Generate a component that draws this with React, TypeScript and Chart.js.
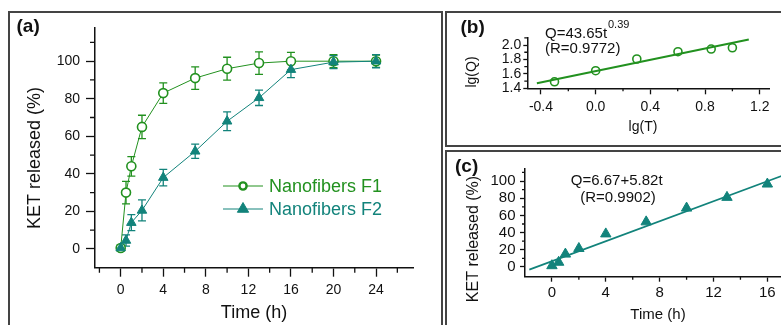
import React, { useEffect, useRef } from 'react';
import { Chart, registerables } from 'chart.js';
Chart.register(...registerables);

// ---------------- data ----------------
const times = [0, 0.5, 1, 2, 4, 7, 10, 13, 16, 20, 24];
const f1Released = [0.5, 30, 44, 65, 83, 91, 96, 99, 100, 100, 100];
const f1Error = [1.5, 6, 5.2, 6.2, 5.5, 6, 6.1, 6, 4.7, 3.5, 3.3];
const f2Released = [0.5, 4.5, 14, 20.5, 38, 52, 68, 80.5, 95.5, 99.5, 100];
const f2Error = [1.5, 3, 4.3, 5.6, 4.4, 3.8, 5, 4.1, 4.2, 3.5, 3.5];

const aXTicks = [0, 4, 8, 12, 16, 20, 24];
const aXMinor = [-2, 2, 6, 10, 14, 18, 22, 26];
const aYTicks = [0, 20, 40, 60, 80, 100];
const aYMinor = [10, 30, 50, 70, 90, 110];

const lgT = [-0.301, 0, 0.301, 0.602, 0.845, 1.0];
const lgQ = [1.49, 1.644, 1.806, 1.907, 1.944, 1.962];
const fitBX = [-0.43, 1.12];
const fitBY = [1.47, 2.077];
const bXTicks = [-0.4, 0, 0.4, 0.8, 1.2];
const bXMinor = [-0.2, 0.2, 0.6, 1.0];
const bYTicks = [1.4, 1.6, 1.8, 2.0];
const bYMinor = [1.5, 1.7, 1.9, 2.1];

const cTimes = [0, 0.5, 1, 2, 4, 7, 10, 13, 16];
const cReleased = [1.5, 5.5, 15, 21.5, 38.5, 52.5, 68.5, 81, 96.5];
const fitCX = [-1.68, 18];
const fitCY = [-3.1, 111.4];
const cXTicks = [0, 4, 8, 12, 16];
const cXMinor = [2, 6, 10, 14, 18];
const cYTicks = [0, 20, 40, 60, 80, 100];
const cYMinor = [10, 30, 50, 70, 90, 110];

// ---------------- styles ----------------
const FONT = "'Liberation Sans', Arial, sans-serif";
const GREEN = '#22911f';
const TEAL = '#12837b';
const INK = '#111';

function axis(o: any) {
  return {
    type: 'linear',
    min: o.min,
    max: o.max,
    afterBuildTicks: (s: any) => {
      s.ticks = o.ticks.map((v: number) => ({ value: v }));
    },
    afterFit: (s: any) => {
      if (o.horizontal) s.height = o.size;
      else s.width = o.size;
    },
    ticks: {
      font: { family: FONT, size: o.font },
      color: INK,
      padding: o.pad,
      autoSkip: false,
      maxRotation: 0,
      minRotation: 0,
      callback: (v: number) => o.fmt(v),
    },
    grid: {
      display: true,
      drawOnChartArea: false,
      drawTicks: true,
      tickLength: o.tickLen,
      tickWidth: 1.3,
      tickColor: INK,
    },
    border: { display: true, color: INK, width: 1.5 },
  };
}

const errorBarPlugin = {
  id: 'errorBars',
  beforeDatasetsDraw(chart: any) {
    const { ctx } = chart;
    const xs = chart.scales.x;
    const ys = chart.scales.y;
    chart.data.datasets.forEach((ds: any) => {
      if (!ds.errors) return;
      ctx.save();
      ctx.strokeStyle = ds.borderColor;
      ctx.lineWidth = 1.3;
      ds.data.forEach((p: any, i: number) => {
        const e = ds.errors[i];
        const px = xs.getPixelForValue(p.x);
        const top = ys.getPixelForValue(p.y + e);
        const bot = ys.getPixelForValue(p.y - e);
        ctx.beginPath();
        ctx.moveTo(px, top);
        ctx.lineTo(px, bot);
        ctx.moveTo(px - 4, top);
        ctx.lineTo(px + 4, top);
        ctx.moveTo(px - 4, bot);
        ctx.lineTo(px + 4, bot);
        ctx.stroke();
      });
      ctx.restore();
    });
  },
};

function minorTicks(xv: number[], yv: number[], len: number) {
  return {
    id: 'minorTicks',
    afterDraw(chart: any) {
      const { ctx, chartArea } = chart;
      const xs = chart.scales.x;
      const ys = chart.scales.y;
      ctx.save();
      ctx.strokeStyle = INK;
      ctx.lineWidth = 1.3;
      ctx.beginPath();
      xv.forEach((v) => {
        const px = xs.getPixelForValue(v);
        ctx.moveTo(px, chartArea.bottom);
        ctx.lineTo(px, chartArea.bottom + len);
      });
      yv.forEach((v) => {
        const py = ys.getPixelForValue(v);
        ctx.moveTo(chartArea.left, py);
        ctx.lineTo(chartArea.left - len, py);
      });
      ctx.stroke();
      ctx.restore();
    },
  };
}

type TextItem = { t: string; x: number; y: number; size: number; bold?: boolean; color?: string; align?: CanvasTextAlign; rot?: boolean };

function textPlugin(ox: number, oy: number, items: TextItem[]) {
  return {
    id: 'texts',
    afterDraw(chart: any) {
      const ctx = chart.ctx;
      items.forEach((it) => {
        ctx.save();
        ctx.font = `${it.bold ? 'bold ' : ''}${it.size}px ${FONT}`;
        ctx.fillStyle = it.color || INK;
        ctx.textAlign = it.align || 'center';
        ctx.textBaseline = 'middle';
        ctx.translate(it.x - ox, it.y - oy);
        if (it.rot) ctx.rotate(-Math.PI / 2);
        ctx.fillText(it.t, 0, 0);
        ctx.restore();
      });
    },
  };
}

function drawMarker(ctx: any, style: string, x: number, y: number, r: number, color: string, lw: number, fill: string) {
  ctx.save();
  ctx.beginPath();
  if (style === 'circle') {
    ctx.arc(x, y, r, 0, Math.PI * 2);
  } else {
    let rad = 0;
    const step = (Math.PI * 2) / 3;
    ctx.moveTo(x + Math.sin(rad) * r, y - Math.cos(rad) * r);
    rad += step;
    ctx.lineTo(x + Math.sin(rad) * r, y - Math.cos(rad) * r);
    rad += step;
    ctx.lineTo(x + Math.sin(rad) * r, y - Math.cos(rad) * r);
  }
  ctx.closePath();
  ctx.fillStyle = fill;
  ctx.fill();
  ctx.strokeStyle = color;
  ctx.lineWidth = lw;
  ctx.stroke();
  ctx.restore();
}

function legendPlugin(ox: number, oy: number) {
  return {
    id: 'legendA',
    afterDraw(chart: any) {
      const ctx = chart.ctx;
      const rows = [
        { ds: chart.data.datasets[0], y: 186, style: 'circle', r: 3.6, lw: 2.4, fill: '#fff' },
        { ds: chart.data.datasets[1], y: 209, style: 'triangle', r: 6.5, lw: 1, fill: TEAL },
      ];
      rows.forEach((row) => {
        const color = row.ds.borderColor;
        const y = row.y - oy;
        ctx.save();
        ctx.strokeStyle = color;
        ctx.lineWidth = 1;
        ctx.beginPath();
        ctx.moveTo(223 - ox, y);
        ctx.lineTo(263 - ox, y);
        ctx.stroke();
        ctx.restore();
        drawMarker(ctx, row.style, 243 - ox, y, row.r, color, row.lw, row.fill);
        ctx.save();
        ctx.font = `18px ${FONT}`;
        ctx.fillStyle = color;
        ctx.textAlign = 'left';
        ctx.textBaseline = 'middle';
        ctx.fillText(row.ds.label, 269 - ox, y + 1);
        ctx.restore();
      });
    },
  };
}

const baseOptions = {
  responsive: false,
  animation: false,
  devicePixelRatio: 1,
  events: [],
};

function configA() {
  const ox = 10;
  const oy = 13;
  return {
    type: 'scatter',
    data: {
      datasets: [
        {
          label: 'Nanofibers F1',
          data: times.map((t, i) => ({ x: t, y: f1Released[i] })),
          errors: f1Error,
          showLine: true,
          borderColor: GREEN,
          borderWidth: 1,
          pointStyle: 'circle',
          pointRadius: 4.5,
          pointBorderWidth: 1.6,
          pointBorderColor: GREEN,
          pointBackgroundColor: '#fff',
          order: 1,
          clip: false,
        },
        {
          label: 'Nanofibers F2',
          data: times.map((t, i) => ({ x: t, y: f2Released[i] })),
          errors: f2Error,
          showLine: true,
          borderColor: TEAL,
          borderWidth: 1,
          pointStyle: 'triangle',
          pointRadius: 5.5,
          pointBorderWidth: 1,
          pointBorderColor: TEAL,
          pointBackgroundColor: TEAL,
          order: 0,
          clip: false,
        },
      ],
    },
    options: {
      ...baseOptions,
      layout: { padding: { left: 0, top: 11, right: 27.7, bottom: 0 } },
      plugins: { legend: { display: false }, tooltip: { enabled: false } },
      scales: {
        x: axis({ min: -2.415, max: 27.5, ticks: aXTicks, fmt: (v: number) => String(v), size: 57.3, horizontal: true, font: 14, tickLen: 9, pad: 5 }),
        y: axis({ min: -10, max: 118, ticks: aYTicks, fmt: (v: number) => String(v), size: 85, font: 14, tickLen: 9, pad: 6 }),
      },
    },
    plugins: [
      errorBarPlugin,
      minorTicks(aXMinor, aYMinor, 5),
      legendPlugin(ox, oy),
      textPlugin(ox, oy, [
        { t: '(a)', x: 16.5, y: 27, size: 19, bold: true, align: 'left' },
        { t: 'KET released (%)', x: 35, y: 158, size: 18, rot: true },
        { t: 'Time (h)', x: 254, y: 313, size: 18 },
      ]),
    ],
  };
}

function configB() {
  const ox = 447;
  const oy = 13;
  return {
    type: 'scatter',
    data: {
      datasets: [
        {
          label: 'lg(Q)',
          data: lgT.map((t, i) => ({ x: t, y: lgQ[i] })),
          showLine: false,
          borderColor: GREEN,
          pointStyle: 'circle',
          pointRadius: 4,
          pointBorderWidth: 1.6,
          pointBorderColor: GREEN,
          pointBackgroundColor: 'rgba(255,255,255,0)',
          order: 0,
          clip: false,
        },
        {
          label: 'fit',
          data: fitBX.map((t, i) => ({ x: t, y: fitBY[i] })),
          showLine: true,
          borderColor: GREEN,
          borderWidth: 2,
          pointRadius: 0,
          order: 1,
          clip: false,
        },
      ],
    },
    options: {
      ...baseOptions,
      layout: { padding: { left: 0, top: 24.8, right: 11.7, bottom: 0 } },
      plugins: { legend: { display: false }, tooltip: { enabled: false } },
      scales: {
        x: axis({ min: -0.5, max: 1.27, ticks: bXTicks, fmt: (v: number) => v.toFixed(1), size: 56.7, horizontal: true, font: 14, tickLen: 6, pad: 4 }),
        y: axis({ min: 1.4, max: 2.1, ticks: bYTicks, fmt: (v: number) => v.toFixed(1), size: 80.3, font: 14, tickLen: 4, pad: 2 }),
      },
    },
    plugins: [
      minorTicks(bXMinor, bYMinor, 3),
      textPlugin(ox, oy, [
        { t: '(b)', x: 460.5, y: 28, size: 19, bold: true, align: 'left' },
        { t: 'Q=43.65t', x: 545, y: 33.5, size: 15, align: 'left' },
        { t: '0.39', x: 608, y: 25, size: 11, align: 'left' },
        { t: '(R=0.9772)', x: 545, y: 48.5, size: 15, align: 'left' },
        { t: 'lg(Q)', x: 472.5, y: 72, size: 14, rot: true },
        { t: 'lg(T)', x: 643, y: 127, size: 14 },
      ]),
    ],
  };
}

function configC() {
  const ox = 447;
  const oy = 152;
  return {
    type: 'scatter',
    data: {
      datasets: [
        {
          label: 'Nanofibers F2',
          data: cTimes.map((t, i) => ({ x: t, y: cReleased[i] })),
          showLine: false,
          borderColor: TEAL,
          pointStyle: 'triangle',
          pointRadius: 6,
          pointBorderWidth: 1,
          pointBorderColor: TEAL,
          pointBackgroundColor: TEAL,
          order: 0,
          clip: false,
        },
        {
          label: 'fit',
          data: fitCX.map((t, i) => ({ x: t, y: fitCY[i] })),
          showLine: true,
          borderColor: TEAL,
          borderWidth: 1.8,
          pointRadius: 0,
          order: 1,
          clip: false,
        },
      ],
    },
    options: {
      ...baseOptions,
      layout: { padding: { left: 0, top: 17, right: 12.7, bottom: 0 } },
      plugins: { legend: { display: false }, tooltip: { enabled: false } },
      scales: {
        x: axis({ min: -2, max: 18, ticks: cXTicks, fmt: (v: number) => String(v), size: 48.3, horizontal: true, font: 15, tickLen: 5, pad: 2.5 }),
        y: axis({ min: -11.3, max: 114, ticks: cYTicks, fmt: (v: number) => String(v), size: 78, font: 15, tickLen: 5, pad: 4.5 }),
      },
    },
    plugins: [
      minorTicks(cXMinor, cYMinor, 3),
      textPlugin(ox, oy, [
        { t: '(c)', x: 455, y: 166.5, size: 19, bold: true, align: 'left' },
        { t: 'Q=6.67+5.82t', x: 616.7, y: 181, size: 15 },
        { t: '(R=0.9902)', x: 618, y: 198.3, size: 15 },
        { t: 'KET released (%)', x: 473.3, y: 239, size: 16, rot: true },
        { t: 'Time (h)', x: 658, y: 315, size: 15 },
      ]),
    ],
  };
}

function ChartCanvas({ left, top, width, height, make }: any) {
  const ref = useRef<HTMLCanvasElement>(null);
  useEffect(() => {
    const chart = new Chart(ref.current as HTMLCanvasElement, make());
    return () => chart.destroy();
  }, []);
  return (
    <canvas
      ref={ref}
      width={width}
      height={height}
      style={{ position: 'absolute', left, top, width, height }}
    />
  );
}

const frame = (left: number, top: number, width: number, height: number): any => ({
  position: 'absolute',
  left,
  top,
  width,
  height,
  boxSizing: 'border-box',
  border: '2px solid #444',
});

export default function App() {
  return (
    <div
      style={{
        position: 'fixed',
        left: 0,
        top: 0,
        width: 781,
        height: 325,
        overflow: 'hidden',
        background: '#fff',
        fontFamily: FONT,
      }}
    >
      <div style={frame(8, 11, 435, 400)} />
      <div style={frame(445, 11, 400, 136)} />
      <div style={frame(445, 150, 400, 300)} />
      <ChartCanvas left={10} top={13} width={431} height={312} make={configA} />
      <ChartCanvas left={447} top={13} width={334} height={132} make={configB} />
      <ChartCanvas left={447} top={152} width={360} height={173} make={configC} />
    </div>
  );
}
